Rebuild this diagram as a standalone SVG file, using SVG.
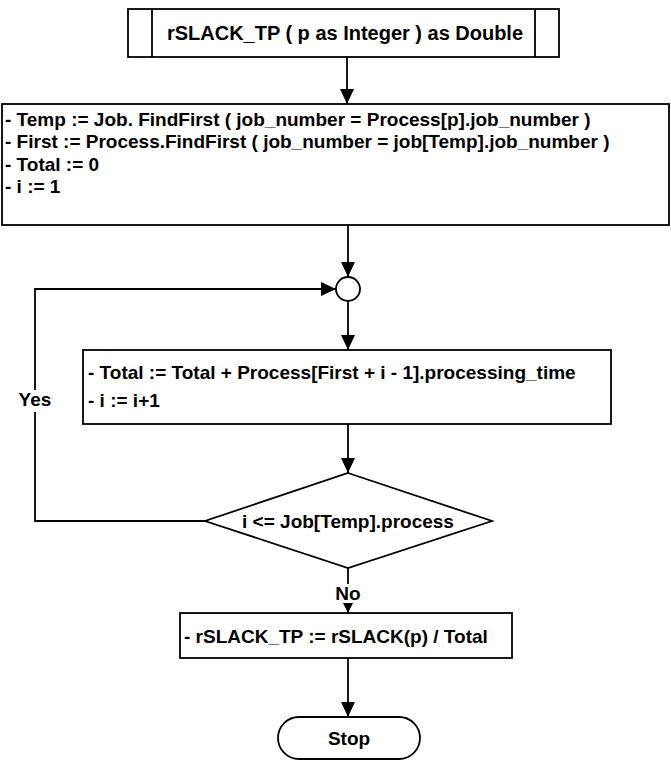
<svg xmlns="http://www.w3.org/2000/svg" width="671" height="764" viewBox="0 0 671 764">
<style>
.box{fill:#fff;stroke:#000;stroke-width:1.8}
.t{font-family:"Liberation Sans",Arial,sans-serif;font-weight:bold;font-size:19px;fill:#000}
.m{text-anchor:middle}
.c{stroke:#000;stroke-width:1.8;fill:none}
.bg{fill:#fff}
</style>
<defs>
<marker id="a" viewBox="0 0 15 14" refX="15" refY="7" markerWidth="15" markerHeight="14" orient="auto" markerUnits="userSpaceOnUse">
<path d="M0,0 L15,7 L0,14 z" fill="#000"/>
</marker>
<marker id="s" viewBox="0 0 10 10" refX="10" refY="5" markerWidth="10" markerHeight="10" orient="auto" markerUnits="userSpaceOnUse">
<path d="M0,0 L10,5 L0,10 z" fill="#000"/>
</marker>
</defs>
<rect width="671" height="764" fill="#fff"/>
<g id="connectors">
<path class="c" d="M347,57 V104" marker-end="url(#a)"/>
<path class="c" d="M348,225 V277" marker-end="url(#a)"/>
<path class="c" d="M348,301 V350" marker-end="url(#a)"/>
<path class="c" d="M348,424 V473" marker-end="url(#a)"/>
<path class="c" d="M348,568 V613" marker-end="url(#s)"/>
<path class="c" d="M348,658 V717" marker-end="url(#a)"/>
<path class="c" d="M205,521 H35 V289 H336" marker-end="url(#a)"/>
<rect class="bg" x="15" y="390" width="40" height="22"/>
<text class="t m" x="35" y="406">Yes</text>
<rect class="bg" x="334" y="584" width="28" height="19"/>
<text class="t m" x="348" y="600">No</text>
</g>
<g id="start">
<rect class="box" x="128" y="9" width="431" height="48"/>
<path class="c" d="M152,9 V57 M535,9 V57"/>
<text class="t m" x="345" y="40" style="font-size:20px" textLength="356" lengthAdjust="spacingAndGlyphs">rSLACK_TP ( p as Integer ) as Double</text>
</g>
<g id="init">
<rect class="box" x="2" y="104" width="667" height="121"/>
<text class="t" x="5" y="126">- Temp := Job. FindFirst ( job_number = Process[p].job_number )</text>
<text class="t" x="5" y="148">- First := Process.FindFirst ( job_number = job[Temp].job_number )</text>
<text class="t" x="5" y="171">- Total := 0</text>
<text class="t" x="5" y="193">- i := 1</text>
</g>
<g id="join">
<circle class="box" cx="348" cy="289" r="12"/>
</g>
<g id="accumulate">
<rect class="box" x="83" y="350" width="528" height="74"/>
<text class="t" x="88" y="379">- Total := Total + Process[First + i - 1].processing_time</text>
<text class="t" x="88" y="407">- i := i+1</text>
</g>
<g id="decision">
<polygon class="box" points="348,473 492,521 348,568 205,521"/>
<text class="t m" x="348" y="528">i &lt;= Job[Temp].process</text>
</g>
<g id="result">
<rect class="box" x="180" y="613" width="332" height="45"/>
<text class="t" x="184" y="643">- rSLACK_TP := rSLACK(p) / Total</text>
</g>
<g id="stop">
<rect class="box" x="278" y="717" width="142" height="42" rx="21"/>
<text class="t m" x="349" y="745">Stop</text>
</g>
</svg>
